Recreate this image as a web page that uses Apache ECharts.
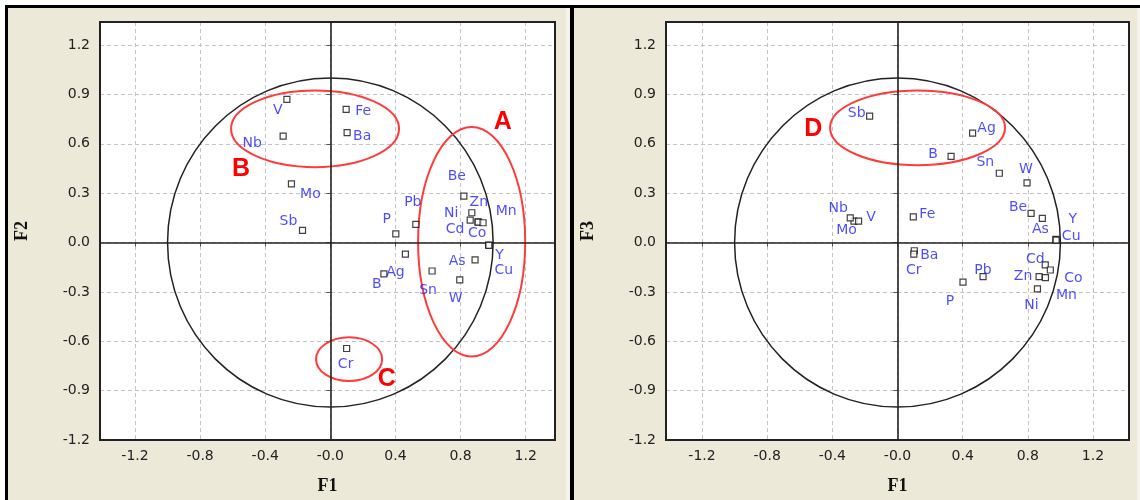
<!DOCTYPE html>
<html>
<head>
<meta charset="utf-8">
<script src="https://cdn.jsdelivr.net/npm/echarts@6/dist/echarts.min.js"></script>
<style>
html, body { margin: 0; padding: 0; background: #fff; }
#chart { width: 1140px; height: 500px; }
</style>
</head>
<body>
<div id="chart"></div>
<script>
// factor loadings of the elements
const elements = ['V', 'Nb', 'Fe', 'Ba', 'Mo', 'Sb', 'P', 'Pb', 'Be', 'Zn', 'Ni', 'Cd', 'Mn', 'Co', 'Y', 'Cu', 'As', 'W', 'Sn', 'Ag', 'B', 'Cr'];
const f1 = [-0.267, -0.29, 0.097, 0.103, -0.239, -0.171, 0.402, 0.525, 0.82, 0.869, 0.859, 0.907, 0.908, 0.938, 0.972, 0.974, 0.889, 0.795, 0.625, 0.461, 0.329, 0.1];
const f2 = [0.87, 0.647, 0.809, 0.668, 0.356, 0.074, 0.052, 0.11, 0.282, 0.181, 0.136, 0.126, 0.124, 0.12, -0.015, -0.017, -0.106, -0.227, -0.173, -0.07, -0.191, -0.644];
const f3 = [0.13, 0.15, 0.156, -0.05, 0.13, 0.768, -0.241, -0.207, 0.177, -0.207, -0.282, -0.136, -0.213, -0.167, 0.019, 0.015, 0.147, 0.362, 0.421, 0.665, 0.524, -0.07];

const xTicks = [-1.2, -0.8, -0.4, 0, 0.4, 0.8, 1.2];
const yTicks = [-1.2, -0.9, -0.6, -0.3, 0, 0.3, 0.6, 0.9, 1.2];

// red groups: [centre x, centre y, half width, half height] and letter position
const groupsF12 = ['A', 'B', 'C'];
const groupsF12Shape = [[0.868, 0.005, 0.329, 0.697], [-0.094, 0.691, 0.516, 0.233], [0.115, -0.709, 0.203, 0.133]];
const groupsF12Letter = [[1.059, 0.732], [-0.549, 0.445], [0.346, -0.833]];
const groupsF13 = ['D'];
const groupsF13Shape = [[0.123, 0.697, 0.537, 0.227]];
const groupsF13Letter = [[-0.517, 0.692]];

// label offsets in px (where the text sits next to each point)
const labelPos12 = {
    V: [-9, 11], Nb: [-31, 7], Fe: [17, 2], Ba: [15, 4], Mo: [19, 10], Sb: [-14, -9],
    P: [-9, -15], Pb: [-3, -22], Be: [-7, -20], Zn: [7, -10], Ni: [-19, -7], Cd: [-23, 8],
    Mn: [28, -11], Co: [-6, 11], Y: [11, 10], Cu: [15, 25], As: [-18, 1], W: [-4, 18],
    Sn: [-4, 19], Ag: [-10, 18], B: [-7, 10], Cr: [-1, 16]
};
const labelPos13 = {
    Sb: [-13, -3], Ag: [14, -5], B: [-18, -2], Sn: [-14, -11], W: [-1, -14], Be: [-13, -6],
    As: [-2, 11], Y: [17, -20], Cu: [15, -4], Fe: [14, -2], Nb: [-12, -9], Mo: [-12, 9],
    V: [17, -4], Ba: [15, 5], Cr: [0, 16], P: [-13, 19], Pb: [0, -6], Cd: [-10, -6],
    Co: [23, 8], Zn: [-16, 0], Mn: [21, 18], Ni: [-6, 16]
};

const chart = echarts.init(document.getElementById('chart'));

function pointData(ys, pos) {
    return elements.map((name, i) => ({
        name: name,
        value: [f1[i], ys[i]],
        label: { offset: pos[name] }
    }));
}

function xAxisFor(gi, min, max) {
    return {
        type: 'value', gridIndex: gi, min: min, max: max,
        name: 'F1', nameLocation: 'middle', nameGap: 37,
        nameTextStyle: { fontFamily: 'Liberation Serif', fontWeight: 'bold', fontSize: 18, color: '#111' },
        axisLine: { show: false },
        axisTick: { show: true, length: 5, customValues: xTicks, lineStyle: { color: '#555', type: 'dashed' } },
        axisLabel: {
            customValues: xTicks, margin: 9, color: '#222', fontFamily: 'DejaVu Sans', fontSize: 14,
            formatter: v => v === 0 ? '-0.0' : v.toFixed(1)
        },
        splitLine: { show: true, lineStyle: { color: '#c4c4c4', type: [4, 3] } }
    };
}

function yAxisFor(gi, name) {
    return {
        type: 'value', gridIndex: gi, min: -1.2, max: 1.34,
        name: name, nameLocation: 'middle', nameGap: 69, nameRotate: 90,
        nameTextStyle: { fontFamily: 'Liberation Serif', fontWeight: 'bold', fontSize: 18, color: '#111' },
        axisLine: { show: false },
        axisTick: { show: true, length: 5, customValues: yTicks, lineStyle: { color: '#555', type: 'dashed' } },
        axisLabel: {
            customValues: yTicks, margin: 10, color: '#222', fontFamily: 'DejaVu Sans', fontSize: 14,
            formatter: v => v.toFixed(1)
        },
        splitLine: { show: true, lineStyle: { color: '#c4c4c4', type: [4, 3] } }
    };
}

function renderCircle(params, api) {
    const c = api.coord([api.value(0), api.value(1)]);
    const s = api.size([api.value(2), api.value(2)]);
    return {
        type: 'ellipse',
        shape: { cx: c[0], cy: c[1], rx: s[0], ry: s[1] },
        style: { fill: null, stroke: '#222', lineWidth: 1.5 }
    };
}

function renderGroup(params, api) {
    const c = api.coord([api.value(0), api.value(1)]);
    const s = api.size([api.value(2), api.value(3)]);
    const t = api.coord([api.value(4), api.value(5)]);
    return {
        type: 'group',
        children: [
            {
                type: 'ellipse',
                shape: { cx: c[0], cy: c[1], rx: s[0], ry: s[1] },
                style: { fill: null, stroke: '#ff3c3c', lineWidth: 2 }
            },
            {
                type: 'text', x: t[0], y: t[1],
                style: {
                    text: api.value(6), fill: '#ff0000', align: 'center', verticalAlign: 'middle',
                    font: 'bold 25px "Liberation Sans", Arial'
                }
            }
        ]
    };
}

function groupData(names, shapes, letters) {
    return names.map((n, i) => [...shapes[i], ...letters[i], n]);
}

function panelSeries(gi, ys, pos, names, shapes, letters) {
    return [
        {
            type: 'custom', xAxisIndex: gi, yAxisIndex: gi, silent: true, z: 3,
            renderItem: renderCircle, data: [[0, 0, 1]]
        },
        {
            type: 'custom', xAxisIndex: gi, yAxisIndex: gi, silent: true, z: 4,
            renderItem: renderGroup,
            dimensions: ['x', 'y', 'rx', 'ry', 'lx', 'ly', { name: 'n', type: 'ordinal' }],
            data: groupData(names, shapes, letters)
        },
        {
            type: 'scatter', xAxisIndex: gi, yAxisIndex: gi, z: 5,
            symbol: 'rect', symbolSize: 6,
            itemStyle: { color: '#fff', borderColor: '#111', borderWidth: 1.2 },
            label: {
                show: true, position: 'inside', formatter: '{b}',
                color: '#1e1eff', fontFamily: 'DejaVu Sans', fontSize: 14
            },
            emphasis: { disabled: true },
            markLine: {
                silent: true, symbol: ['none', 'none'], label: { show: false },
                lineStyle: { color: '#222', width: 1.6, type: 'solid' },
                data: [{ xAxis: 0 }, { yAxis: 0 }]
            },
            data: pointData(ys, pos)
        }
    ];
}

const option = {
    backgroundColor: '#ece9d8',
    animation: false,
    grid: [
        { left: 100, top: 22, width: 455, height: 418, show: true, backgroundColor: '#fff', borderWidth: 0 },
        { left: 666, top: 22, width: 463, height: 418, show: true, backgroundColor: '#fff', borderWidth: 0 }
    ],
    xAxis: [xAxisFor(0, -1.415, 1.38), xAxisFor(1, -1.421, 1.421)],
    yAxis: [yAxisFor(0, 'F2'), yAxisFor(1, 'F3')],
    series: [
        ...panelSeries(0, f2, labelPos12, groupsF12, groupsF12Shape, groupsF12Letter),
        ...panelSeries(1, f3, labelPos13, groupsF13, groupsF13Shape, groupsF13Letter)
    ],
    graphic: [
        { type: 'rect', shape: { x: 0, y: 0, width: 1140, height: 5 }, style: { fill: '#fff' } },
        { type: 'rect', shape: { x: 0, y: 0, width: 5, height: 500 }, style: { fill: '#fff' } },
        { type: 'rect', shape: { x: 5, y: 5, width: 1135, height: 3 }, style: { fill: '#000' } },
        { type: 'rect', shape: { x: 5, y: 5, width: 3, height: 495 }, style: { fill: '#000' } },
        { type: 'rect', shape: { x: 566, y: 8, width: 4, height: 492 }, style: { fill: '#f6f4ea' } },
        { type: 'rect', shape: { x: 570, y: 5, width: 4, height: 495 }, style: { fill: '#000' } },
        { type: 'rect', shape: { x: 1137, y: 8, width: 3, height: 492 }, style: { fill: '#f6f4ea' } },
        // plot frames drawn on top so grid lines do not cut them
        { type: 'rect', z: 100, shape: { x: 100, y: 22, width: 455, height: 418 }, style: { fill: null, stroke: '#222', lineWidth: 2 } },
        { type: 'rect', z: 100, shape: { x: 666, y: 22, width: 463, height: 418 }, style: { fill: null, stroke: '#222', lineWidth: 2 } }
    ]
};

chart.setOption(option);
</script>
</body>
</html>
